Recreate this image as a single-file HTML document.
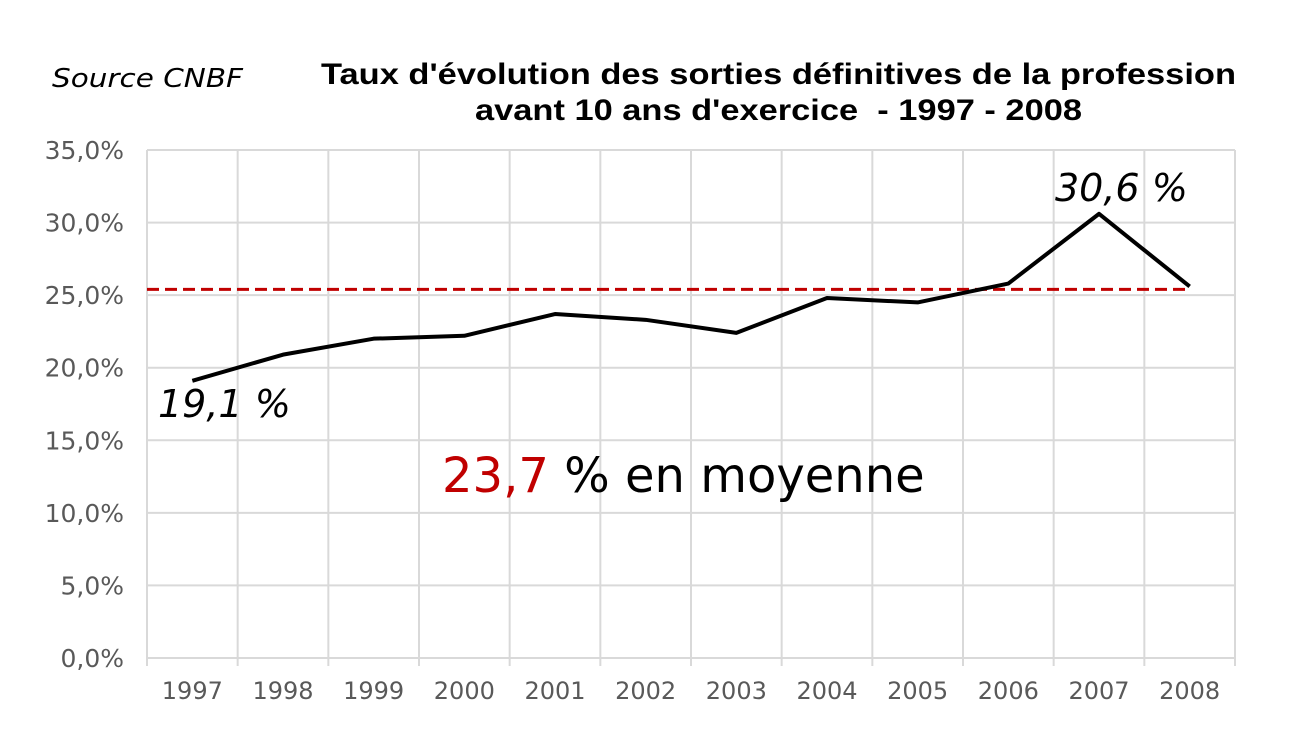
<!DOCTYPE html>
<html><head><meta charset="utf-8"><style>
body{margin:0;background:#fff;}
svg{display:block;}
</style></head><body>
<svg id="chart" width="1314" height="752" xmlns="http://www.w3.org/2000/svg">
<text x="52" y="87" textLength="191" lengthAdjust="spacingAndGlyphs" font-family="DejaVu Sans, sans-serif" font-size="26" font-style="italic" fill="#000">Source CNBF</text>
<text x="321" y="84" textLength="915" lengthAdjust="spacingAndGlyphs" font-family="Liberation Sans, sans-serif" font-size="30" font-weight="bold" fill="#000">Taux d'évolution des sorties définitives de la profession</text>
<text x="475" y="120" textLength="607" lengthAdjust="spacingAndGlyphs" font-family="Liberation Sans, sans-serif" font-size="30" font-weight="bold" fill="#000" xml:space="preserve">avant 10 ans d'exercice  - 1997 - 2008</text>
<g id="grid"></g><g id="axes"></g><g id="series"></g>
<text x="158" y="417" font-family="DejaVu Sans, sans-serif" font-size="38" font-style="italic" fill="#000" id="lbl1"></text>
<text x="1055" y="201" font-family="DejaVu Sans, sans-serif" font-size="38" font-style="italic" fill="#000" id="lbl2"></text>
<text x="442" y="492" font-family="DejaVu Sans, sans-serif" font-size="48" fill="#000"><tspan fill="#c00000">23,7</tspan> % en moyenne</text>
</svg>
<script>
const categories=["1997","1998","1999","2000","2001","2002","2003","2004","2005","2006","2007","2008"];
const values=[19.1,20.9,22.0,22.2,23.7,23.3,22.4,24.8,24.5,25.8,30.6,25.6];
const refLine=[25.4];
const yTicks=[0,5,10,15,20,25,30,35];
const NS="http://www.w3.org/2000/svg";
const L=147,R=1235,T=150,B=658,yMax=35;
const bw=(R-L)/categories.length;
const xS=i=>L+bw*(i+0.5);
const yS=v=>B-v/yMax*(B-T);
function mk(t,a,p){const e=document.createElementNS(NS,t);for(const k in a)e.setAttribute(k,a[k]);p.appendChild(e);return e;}
const grid=document.getElementById('grid'),axes=document.getElementById('axes'),ser=document.getElementById('series');
yTicks.forEach(v=>{
 const l=mk('line',{x1:L,x2:R,y1:yS(v),y2:yS(v),stroke:'#d9d9d9','stroke-width':2},grid);
 
 
 const t=mk('text',{x:124,y:yS(v)+9,'text-anchor':'end','font-family':'DejaVu Sans, sans-serif','font-size':25,fill:'#595959'},axes);
 t.textContent=v.toFixed(1).replace('.',',')+'%';
 
 
});
for(let i=0;i<=categories.length;i++){
 const x=L+bw*i;
 const l=mk('line',{x1:x,x2:x,y1:T,y2:B+8,stroke:'#d9d9d9','stroke-width':2},grid);
 
 
}
categories.forEach((c,i)=>{
 const t=mk('text',{x:xS(i),y:699,'text-anchor':'middle','font-family':'DejaVu Sans, sans-serif','font-size':24,fill:'#595959'},axes);
 t.textContent=c;
 
 
});
const rl=mk('line',{x1:L,x2:xS(categories.length-1),y1:yS(refLine[0]),y2:yS(refLine[0]),stroke:'#c00000','stroke-width':3,'stroke-dasharray':'12,6'},ser);


const pl=mk('polyline',{points:values.map((v,i)=>xS(i)+','+yS(v)).join(' '),fill:'none',stroke:'#000','stroke-width':4,'stroke-linejoin':'round'},ser);


const f=v=>v.toFixed(1).replace('.',',')+' %';
document.getElementById('lbl1').textContent=f(values[0]);
document.getElementById('lbl2').textContent=f(values[10]);
</script>
</body></html>
